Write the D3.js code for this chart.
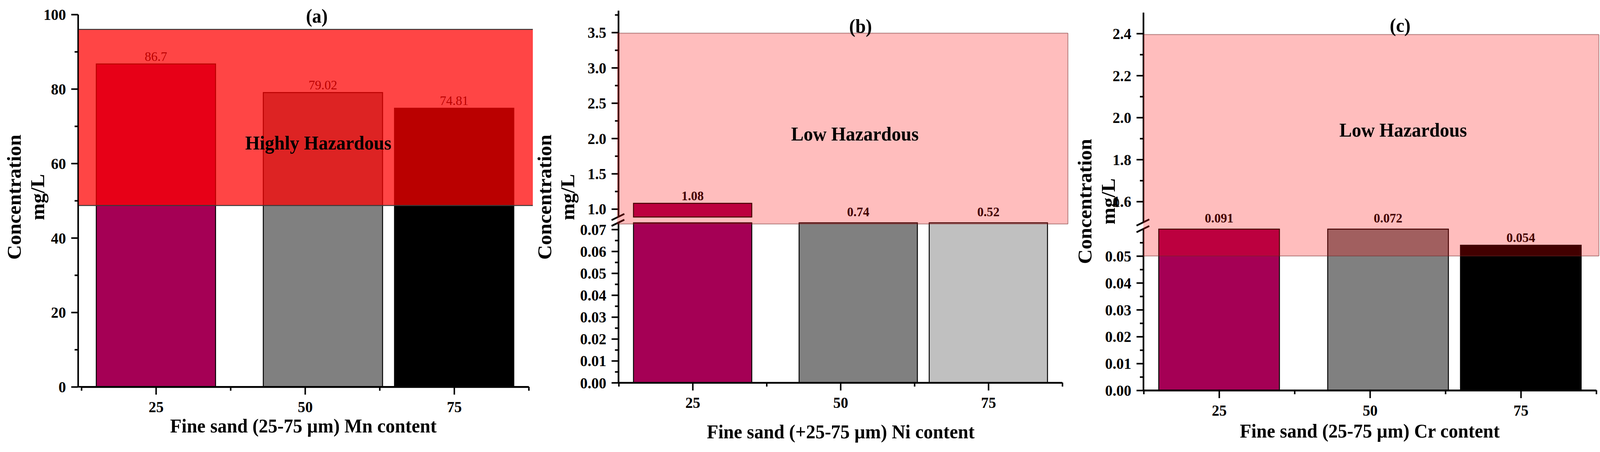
<!DOCTYPE html>
<html>
<head>
<meta charset="utf-8">
<script src="https://cdn.jsdelivr.net/npm/d3@7"></script>
<style>
  html, body { margin: 0; padding: 0; background: #fff; overflow: hidden; }
  svg { display: block; font-family: "Liberation Serif", "Times New Roman", serif; }
</style>
</head>
<body>
<svg id="chart"></svg>
<script>
// Values
const sizes = [25, 50, 75];                 // fine sand fraction (x categories)
const mnValues = [86.7, 79.02, 74.81];
const niValues = [1.08, 0.74, 0.52];
const crValues = [0.091, 0.072, 0.054];

// Tick values
const xMinor = [12.5, 37.5, 62.5, 87.5];
const mnTicks = [0, 20, 40, 60, 80, 100];
const mnMinor = [10, 30, 50, 70, 90];
const niLowTicks = [0, 0.01, 0.02, 0.03, 0.04, 0.05, 0.06, 0.07];
const niLowMinor = [0.005, 0.015, 0.025, 0.035, 0.045, 0.055, 0.065];
const niHighTicks = [1.0, 1.5, 2.0, 2.5, 3.0, 3.5];
const niHighMinor = [1.25, 1.75, 2.25, 2.75, 3.25, 3.75];
const crLowTicks = [0, 0.01, 0.02, 0.03, 0.04, 0.05];
const crLowMinor = [0.005, 0.015, 0.025, 0.035, 0.045, 0.055];
const crHighTicks = [1.6, 1.8, 2.0, 2.2, 2.4];
const crHighMinor = [1.7, 1.9, 2.1, 2.3];

// Hazard bands [bottom, top]
const mnBand = [48.7, 96];
const niBand = [0.0725, 3.49];
const crBand = [0.05, 2.395];

// Layout: bars are 20 x-units wide, the middle one sits a bit right of its tick
const W = 4267, H = 1158;
const barHalf = 10;
const barShift = [0, 3, 0];

const panels = [
  {
    title: "(a)", values: mnValues, band: mnBand, hazard: "Highly Hazardous",
    xTitle: "Fine sand (25-75 µm) Mn content",
    axisX: 208, xRange: [217, 1410], bandX: [210, 1421],
    low: { domain: [0, 100], range: [991, 37], ticks: mnTicks, minor: mnMinor, fmt: d3.format("d") },
    high: null,
    colors: ["#A50055", "#808080", "#000000"],
    bandFill: "rgba(255,0,0,0.73)", bandEdge: "#3a3a3a", bandRightEdge: false,
    labelWeight: "normal",
    titlePos: [845, 58], hazardPos: [849, 383], xTitleY: 1108, xTitleX: 809,
    yTitleX: [55, 118], yTitleY: 505
  },
  {
    title: "(b)", values: niValues, band: niBand, hazard: "Low Hazardous",
    xTitle: "Fine sand (+25-75 µm) Ni content",
    axisX: 1649, xRange: [1650, 2833], bandX: [1646, 2848],
    low: { domain: [0, 0.073], range: [980.4, 570.9], ticks: niLowTicks, minor: niLowMinor, fmt: d3.format(".2f") },
    high: { domain: [0.886, 3.81], range: [556, 27], ticks: niHighTicks, minor: niHighMinor, fmt: d3.format(".1f") },
    colors: ["#A50055", "#808080", "#C0C0C0"],
    bandFill: "rgba(255,0,0,0.26)", bandEdge: "rgba(110,40,40,0.45)", bandRightEdge: true,
    labelWeight: "bold",
    titlePos: [2295, 84], hazardPos: [2280, 360], xTitleY: 1123, xTitleX: 2242,
    yTitleX: [1470, 1531], yTitleY: 505
  },
  {
    title: "(c)", values: crValues, band: crBand, hazard: "Low Hazardous",
    xTitle: "Fine sand (25-75 µm) Cr content",
    axisX: 3049, xRange: [3050, 4257], bandX: [3049, 4264],
    low: { domain: [0, 0.06], range: [1000, 587], ticks: crLowTicks, minor: crLowMinor, fmt: d3.format(".2f") },
    high: { domain: [1.5, 2.5], range: [570, 32], ticks: crHighTicks, minor: crHighMinor, fmt: d3.format(".1f") },
    colors: ["#A50055", "#808080", "#000000"],
    bandFill: "rgba(255,0,0,0.26)", bandEdge: "rgba(110,40,40,0.45)", bandRightEdge: true,
    labelWeight: "bold",
    titlePos: [3734, 82], hazardPos: [3742, 350], xTitleY: 1121, xTitleX: 3653,
    yTitleX: [2911, 2973], yTitleY: 516
  }
];

// The drawing is laid out in reference pixels and stretched to the window
const svg = d3.select("#chart")
  .attr("viewBox", `0 0 ${W} ${H}`)
  .attr("preserveAspectRatio", "none")
  .attr("width", window.innerWidth)
  .attr("height", window.innerHeight);

function styleAxis(g, fontSize) {
  g.attr("font-family", null).attr("font-size", null);
  g.selectAll(".domain").attr("stroke", "#000").attr("stroke-width", 4);
  g.selectAll(".tick line").attr("stroke", "#000").attr("stroke-width", 4);
  g.selectAll(".tick text")
    .attr("fill", "#000")
    .style("font-size", fontSize + "px")
    .style("font-weight", "bold");
}

function drawYAxis(g, scale, spec, axisX) {
  const minor = g.append("g")
    .attr("transform", `translate(${axisX},0)`)
    .call(d3.axisLeft(scale).tickValues(spec.minor).tickFormat("").tickSize(9).tickSizeOuter(0));
  styleAxis(minor, 40);
  const major = g.append("g")
    .attr("transform", `translate(${axisX},0)`)
    .call(d3.axisLeft(scale).tickValues(spec.ticks).tickFormat(spec.fmt).tickSize(18).tickPadding(14).tickSizeOuter(0));
  styleAxis(major, 40);
  major.selectAll(".tick text").attr("dy", "0.34em");
}

panels.forEach(p => {
  const g = svg.append("g");

  const x = d3.scaleLinear().domain([12.5, 87.5]).range(p.xRange);
  const yLow = d3.scaleLinear().domain(p.low.domain).range(p.low.range);
  const yHigh = p.high ? d3.scaleLinear().domain(p.high.domain).range(p.high.range) : null;
  const lowMax = p.low.domain[1];
  const highMin = p.high ? p.high.domain[0] : Infinity;
  const yMap = v => (yHigh && v >= highMin) ? yHigh(v) : yLow(Math.min(v, lowMax));

  const rows = sizes.map((s, i) => ({ s, v: p.values[i], i }));
  const left = d => x(d.s + barShift[d.i] - barHalf);
  const width = d => x(d.s + barShift[d.i] + barHalf) - left(d);

  // lower part of each bar
  g.selectAll(".bar-low")
    .data(rows)
    .join("rect")
    .attr("class", "bar-low")
    .attr("x", left)
    .attr("width", width)
    .attr("y", d => yLow(Math.min(d.v, lowMax)))
    .attr("height", d => yLow(0) - yLow(Math.min(d.v, lowMax)))
    .attr("fill", d => p.colors[d.i])
    .attr("stroke", "#000")
    .attr("stroke-width", 2.5);

  // upper part for bars reaching past the axis break
  if (yHigh) {
    g.selectAll(".bar-high")
      .data(rows.filter(d => d.v > highMin))
      .join("rect")
      .attr("class", "bar-high")
      .attr("x", left)
      .attr("width", width)
      .attr("y", d => yHigh(d.v))
      .attr("height", d => yHigh(highMin) - yHigh(d.v))
      .attr("fill", d => p.colors[d.i])
      .attr("stroke", "#000")
      .attr("stroke-width", 2.5);
  }

  // value labels
  g.selectAll(".val")
    .data(rows)
    .join("text")
    .attr("class", "val")
    .attr("x", d => x(d.s + barShift[d.i]))
    .attr("y", d => {
      if (yHigh && d.v > highMin) return yHigh(d.v) - 8;
      if (d.v > lowMax) return yLow(lowMax) - 17;
      return yLow(d.v) - 8;
    })
    .attr("text-anchor", "middle")
    .style("font-size", "34px")
    .style("font-weight", p.labelWeight)
    .attr("fill", "#000")
    .text(d => String(d.v));

  // y axis (one or two segments)
  drawYAxis(g, yLow, p.low, p.axisX);
  if (yHigh) {
    drawYAxis(g, yHigh, p.high, p.axisX);
    // break marks
    const ys = [yHigh(highMin), yLow(lowMax)];
    g.selectAll(".brk")
      .data(ys)
      .join("line")
      .attr("x1", p.axisX - 18).attr("y1", d => d + 8)
      .attr("x2", p.axisX + 16).attr("y2", d => d - 8)
      .attr("stroke", "#000")
      .attr("stroke-width", 4.5);
  }

  // x axis
  const xAxisY = yLow(0);
  const xg = g.append("g").attr("transform", `translate(0,${xAxisY})`);
  xg.append("line")
    .attr("x1", p.axisX).attr("x2", p.xRange[1])
    .attr("stroke", "#000").attr("stroke-width", 4);
  const xMin = xg.append("g")
    .call(d3.axisBottom(x).tickValues(xMinor).tickFormat("").tickSize(10).tickSizeOuter(0));
  styleAxis(xMin, 40);
  const xMaj = xg.append("g")
    .call(d3.axisBottom(x).tickValues(sizes).tickFormat(d3.format("d")).tickSize(20).tickSizeOuter(0));
  styleAxis(xMaj, 40);
  xMaj.selectAll(".tick text").attr("y", 65).attr("dy", null);

  // hazard band drawn over bars
  const bTop = yMap(p.band[1]);
  const bBot = yMap(p.band[0]);
  g.append("rect")
    .attr("x", p.bandX[0])
    .attr("y", bTop)
    .attr("width", p.bandX[1] - p.bandX[0])
    .attr("height", bBot - bTop)
    .attr("fill", p.bandFill);
  const edges = [[p.bandX[0], bTop, p.bandX[1], bTop], [p.bandX[0], bBot, p.bandX[1], bBot]];
  if (p.bandRightEdge) edges.push([p.bandX[1], bTop, p.bandX[1], bBot]);
  g.selectAll(".edge")
    .data(edges)
    .join("line")
    .attr("x1", d => d[0]).attr("y1", d => d[1])
    .attr("x2", d => d[2]).attr("y2", d => d[3])
    .attr("stroke", p.bandEdge)
    .attr("stroke-width", 2.5);

  g.append("text")
    .attr("x", p.hazardPos[0]).attr("y", p.hazardPos[1])
    .attr("text-anchor", "middle")
    .style("font-size", "50px").style("font-weight", "bold")
    .text(p.hazard);

  // panel letter
  g.append("text")
    .attr("x", p.titlePos[0]).attr("y", p.titlePos[1])
    .attr("text-anchor", "middle")
    .style("font-size", "50px").style("font-weight", "bold")
    .text(p.title);

  // axis titles
  g.append("text")
    .attr("x", p.xTitleX).attr("y", p.xTitleY)
    .attr("text-anchor", "middle")
    .style("font-size", "50px").style("font-weight", "bold")
    .text(p.xTitle);

  ["Concentration", "mg/L"].forEach((t, k) => {
    g.append("text")
      .attr("transform", `translate(${p.yTitleX[k]},${p.yTitleY}) rotate(-90)`)
      .attr("text-anchor", "middle")
      .style("font-size", "52px").style("font-weight", "bold")
      .text(t);
  });
});
</script>
</body>
</html>
